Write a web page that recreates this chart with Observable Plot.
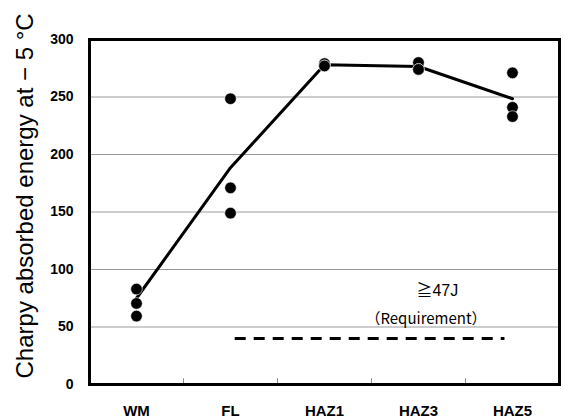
<!DOCTYPE html>
<html><head><meta charset="utf-8">
<script src="https://cdn.jsdelivr.net/npm/d3@7"></script>
<script src="https://cdn.jsdelivr.net/npm/@observablehq/plot@0.6"></script>
<style>body{margin:0;background:#fff}</style>
</head><body><div id="chart"></div>
<script>
const categories = ["WM", "FL", "HAZ1", "HAZ3", "HAZ5"];
const specimenValues = [
  [83, 70.5, 59.5],
  [248.5, 171, 149],
  [279, 277, 277],
  [280, 274, 274],
  [271, 241, 233]
];
const meanValues = [75, 188.5, 278, 276.5, 248.5];
const yTicks = [0, 50, 100, 150, 200, 250, 300];
const gridValues = [50, 100, 150, 200, 250];
const requirementY = 40;
const requirementSpan = [1.55, 4.42];
const requirementLabel = "≧47J";
const requirementNote = "（Requirement）";
const yLabel = "Charpy absorbed energy at − 5 °C";

const pos = categories.map((c, i) => i + 0.5);
const points = specimenValues.flatMap((vals, i) => vals.map(v => ({x: pos[i], y: v})));
const meanLine = meanValues.map((v, i) => ({x: pos[i], y: v}));

const chart = Plot.plot({
  width: 565, height: 419,
  marginLeft: 89, marginRight: 6, marginTop: 39, marginBottom: 35,
  style: {fontFamily: "Liberation Sans, Arial, 'Noto Sans CJK JP', sans-serif", background: "#fff"},
  x: {domain: [0, 5]},
  y: {domain: [0, 300]},
  marks: [
    Plot.ruleY(gridValues, {stroke: "#9a9a9a", strokeWidth: 1}),
    Plot.ruleX([1, 2, 3, 4], {y1: 0, y2: 5, stroke: "#888", strokeWidth: 1}),
    Plot.axisY({ticks: yTicks, tickSize: 0, tickPadding: 16, fontSize: 14, fontWeight: "bold", label: null}),
    Plot.axisX({ticks: pos, tickSize: 0, tickPadding: 21, fontSize: 15, fontWeight: "bold", tickFormat: (d, i) => categories[i], label: null}),
    Plot.ruleY([requirementY], {x1: requirementSpan[0], x2: requirementSpan[1], stroke: "#000", strokeWidth: 3, strokeDasharray: "11,8"}),
    Plot.line(meanLine, {x: "x", y: "y", stroke: "#000", strokeWidth: 3}),
    Plot.dot(points, {x: "x", y: "y", r: 5.8, fill: "#000", stroke: "#fff", strokeWidth: 0.6}),
    Plot.text([requirementLabel], {x: 3.7, y: 81, fontSize: 16, fill: "#000", fontFamily: "Liberation Sans, 'Noto Sans CJK JP', sans-serif"}),
    Plot.text([requirementNote], {x: 3.58, y: 57, fontSize: 15, fill: "#000", fontFamily: "'Noto Sans CJK JP', sans-serif"}),
    Plot.text([yLabel], {x: [-0.68], y: [164], text: d => d, rotate: -90, fontSize: 24, fill: "#000"}),
    Plot.frame({stroke: "#000", strokeWidth: 3})
  ]
});
document.getElementById("chart").appendChild(chart);
</script>
</body></html>
